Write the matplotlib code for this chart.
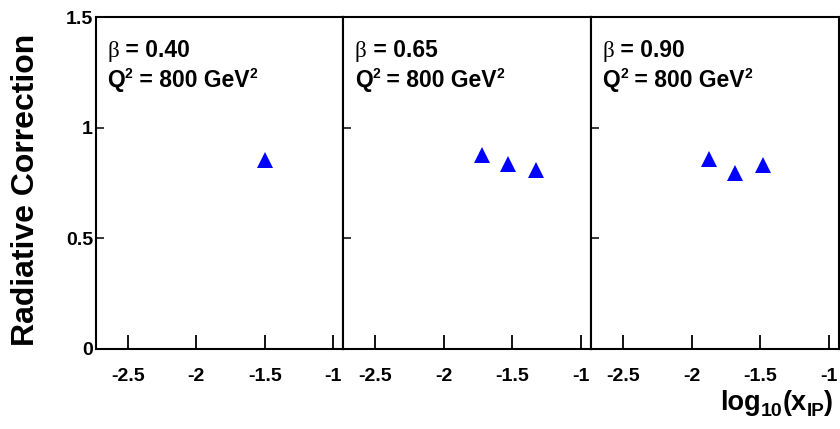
import matplotlib
matplotlib.use("Agg")
import matplotlib.pyplot as plt
from matplotlib.transforms import IdentityTransform

plt.rcParams.update({
    "font.family": ["Liberation Sans", "DejaVu Sans"],
    "font.weight": "bold",
    "axes.unicode_minus": False,
})

# Radiative corrections per beta bin at Q^2 = 800 GeV^2
betas = ["0.40", "0.65", "0.90"]
log_xip = [
    [-1.50],
    [-1.72, -1.53, -1.33],
    [-1.87, -1.68, -1.48],
]
corrections = [
    [0.853],
    [0.876, 0.837, 0.808],
    [0.857, 0.795, 0.829],
]
x_ticks = [-2.5, -2, -1.5, -1]
x_tick_labels = ["-2.5", "-2", "-1.5", "-1"]
y_ticks = [0, 0.5, 1, 1.5]
y_tick_labels = ["0", "0.5", "1", "1.5"]

W, H = 840, 429
fig = plt.figure(figsize=(W / 100, H / 100), dpi=100)
renderer = fig.canvas.get_renderer()

left0 = 95.7
panel_w = 247.7
bottom_px = 348.7
top_px = 17.0
plot_h = bottom_px - top_px

SERIF = ["Liberation Serif", "DejaVu Serif"]


def text_run(x, y_top, pieces, right=None):
    """Lay out text pieces along one baseline; x and y in pixels from the
    top-left corner. Each piece is (text, size, raise_px, family, weight).
    If right is given, the run is shifted so that it ends there."""
    y = H - y_top
    texts = []
    for s, size, dy, fam, weight in pieces:
        kw = {} if fam is None else {"family": fam}
        t = fig.text(x, y + dy, s, transform=IdentityTransform(),
                     fontsize=size, fontweight=weight,
                     va="baseline", ha="left", **kw)
        texts.append(t)
        x = t.get_window_extent(renderer).x1
    if right is not None:
        shift = right - x
        for t in texts:
            px, py = t.get_position()
            t.set_position((px + shift, py))
    return texts


for i in range(3):
    x0 = left0 + i * panel_w
    ax = fig.add_axes([x0 / W, (H - bottom_px) / H, panel_w / W, plot_h / H])
    ax.plot(log_xip[i], corrections[i], linestyle="none", marker="^",
            markersize=11, color="#0000ff", markeredgewidth=0)
    ax.set_xlim(-2.734, -0.925)
    ax.set_ylim(0, 1.5)
    ax.set_xticks(x_ticks)
    ax.set_xticklabels(x_tick_labels)
    ax.set_yticks(y_ticks)
    if i == 0:
        ax.set_yticklabels(y_tick_labels)
    else:
        ax.set_yticklabels([])
    ax.tick_params(axis="x", direction="in", length=10, width=1.3,
                   labelsize=14, pad=14)
    ax.tick_params(axis="y", direction="in", length=6, width=1.1,
                   labelsize=14, pad=2)
    for lab in ax.get_xticklabels() + ax.get_yticklabels():
        lab.set_fontweight("bold")
    for s in ax.spines.values():
        s.set_linewidth(1.5)

    tx = x0 + 11.5
    text_run(tx, 57, [
        ("β", 16.5, 0, SERIF, "normal"),
        (" = " + betas[i], 16.5, 0, None, "bold"),
    ])
    text_run(tx, 87, [
        ("Q", 16.5, 0, None, "bold"),
        ("2", 10, 9, None, "bold"),
        (" = 800 GeV", 16.5, 0, None, "bold"),
        ("2", 10, 9, None, "bold"),
    ])

fig.text(26 / W, 1 - 190 / H, "Radiative Correction", rotation=90,
         fontsize=23, fontweight="bold", ha="center", va="center")

# axis title log10(x_IP) assembled from pieces with lowered subscripts
text_run(718, 410, [
    ("log", 19.5, 0, None, "bold"),
    ("10", 14, -6, None, "bold"),
    ("(x", 19.5, 0, None, "bold"),
    ("IP", 13.5, -6, None, "bold"),
    (")", 19.5, 0, None, "bold"),
], right=833)

fig.savefig("out.png", dpi=100)
